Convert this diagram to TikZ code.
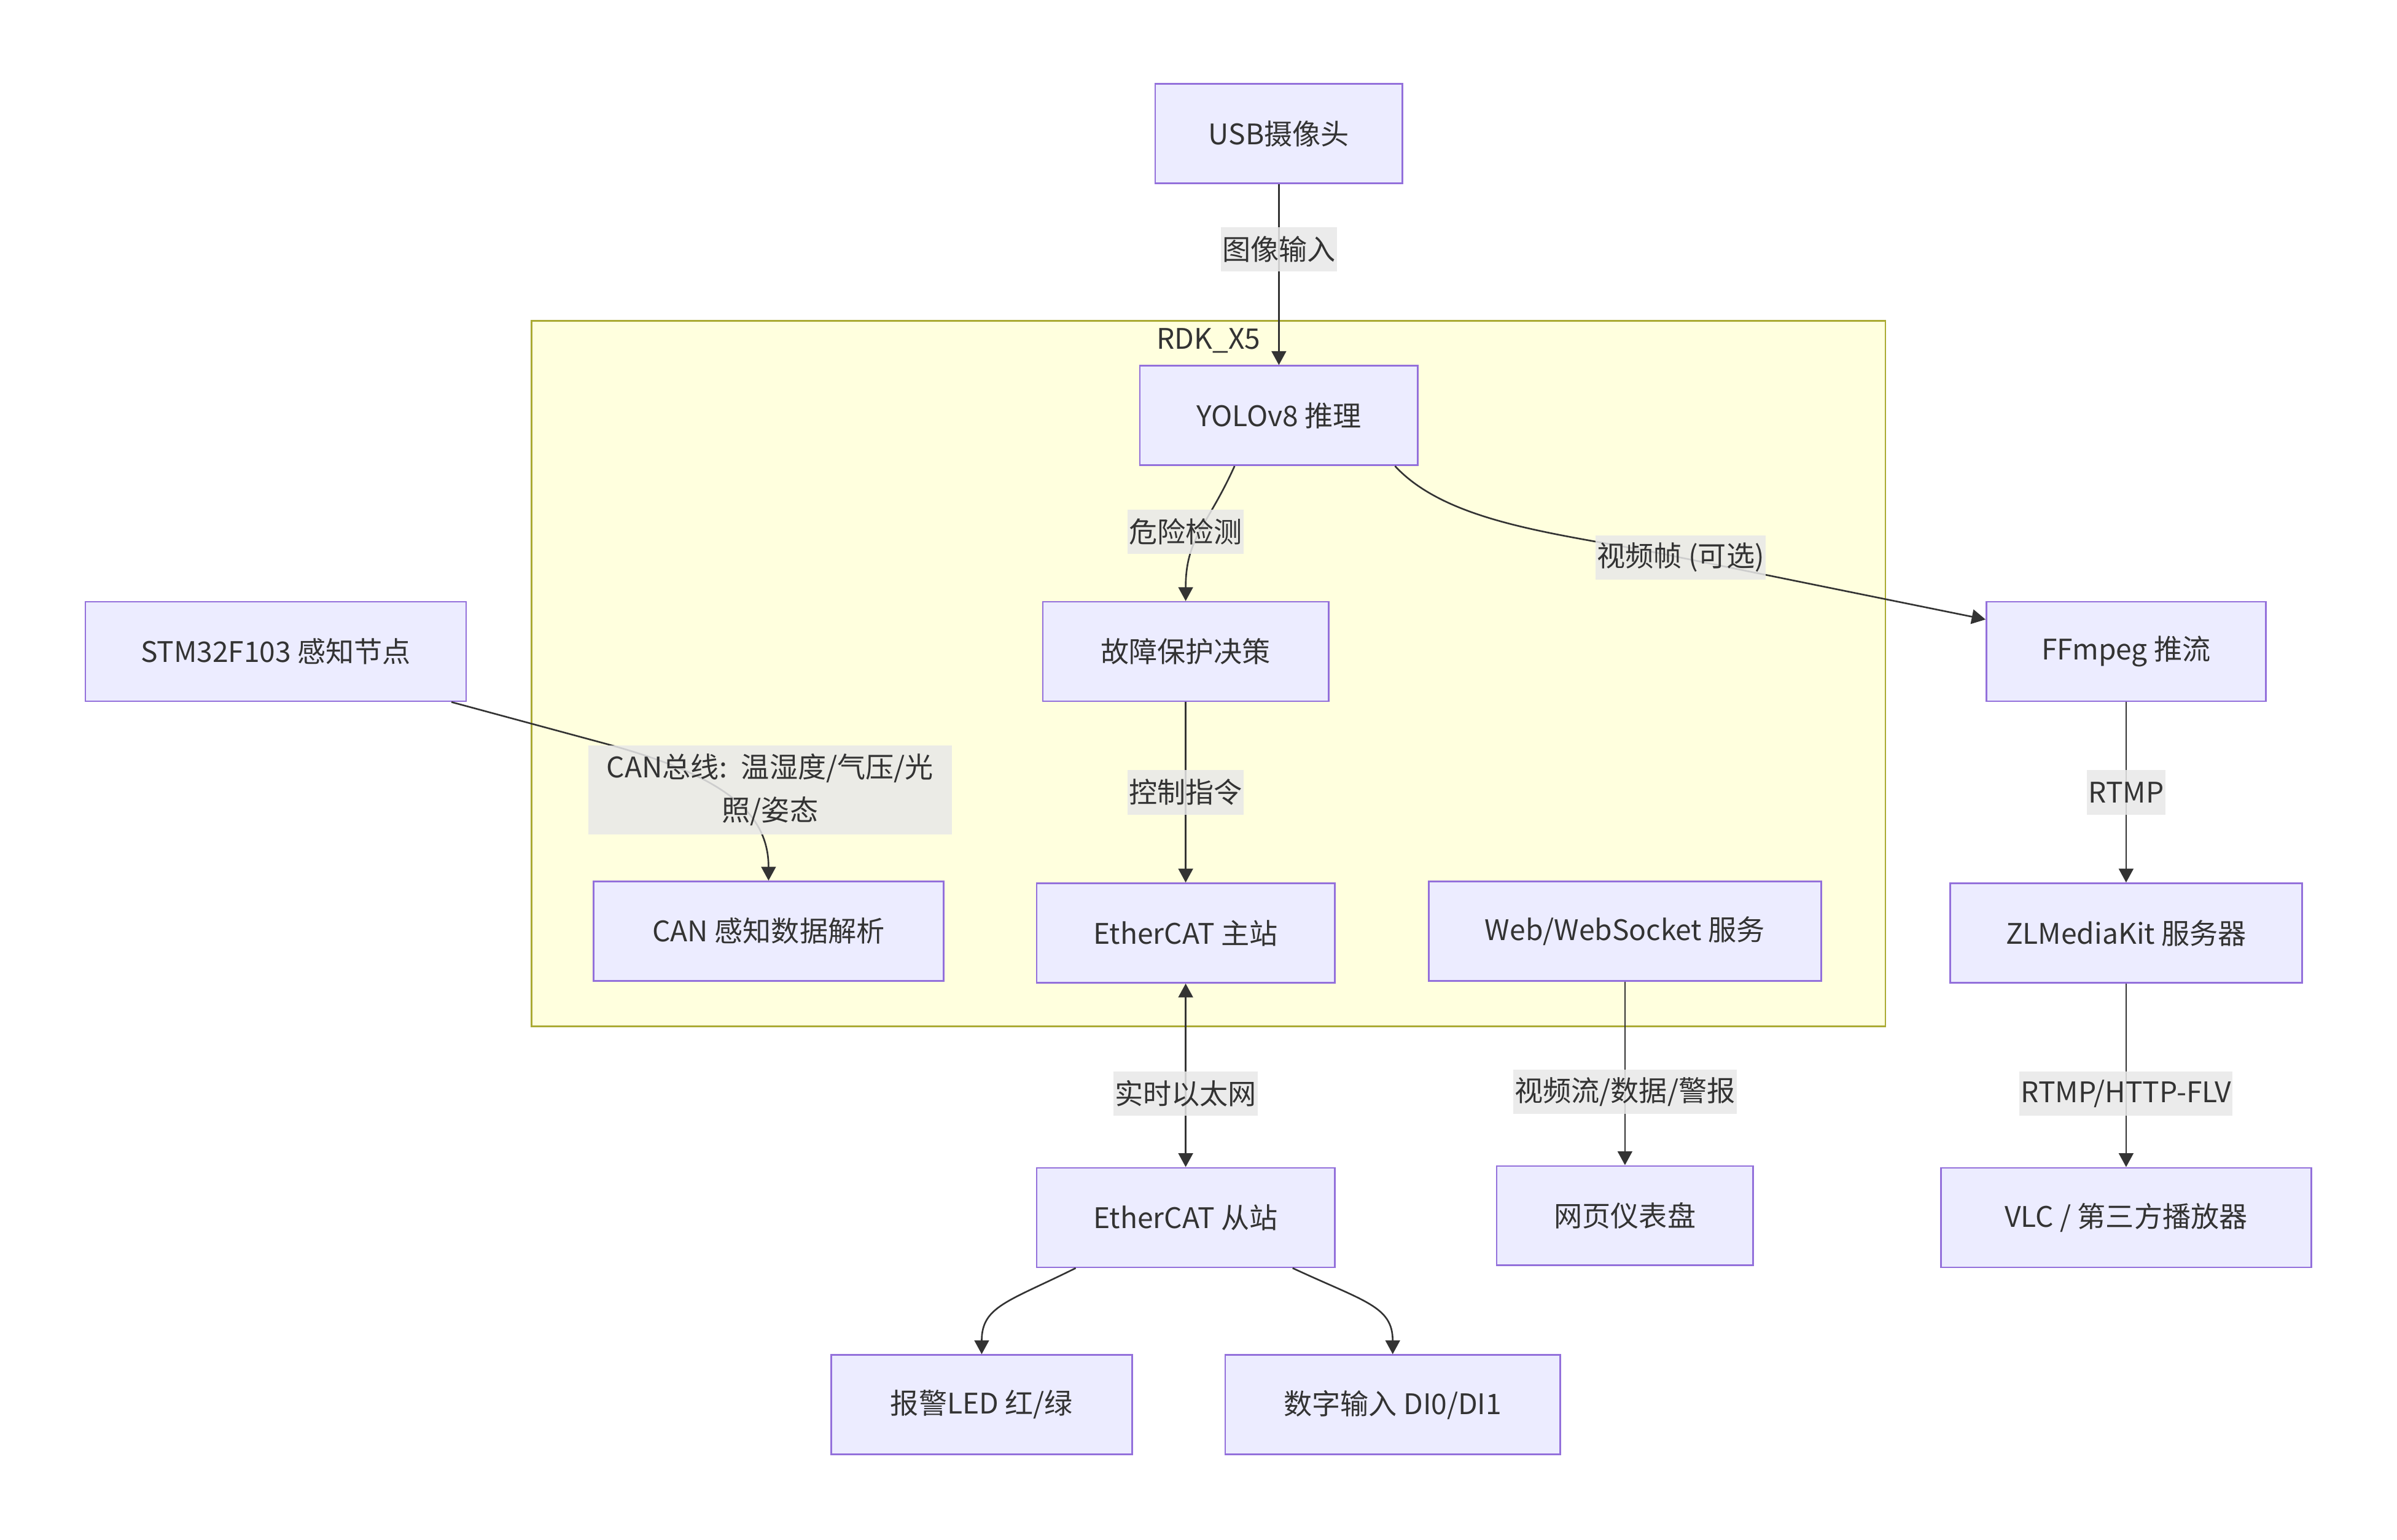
\documentclass[tikz,border=0pt]{standalone}
\usepackage{fontspec}
\setmainfont{Noto Sans CJK SC}
\usetikzlibrary{positioning, calc, arrows.meta}
\definecolor{nodefill}{HTML}{ECECFF}
\definecolor{nodeline}{HTML}{9370DB}
\definecolor{clusterfill}{HTML}{FFFFDE}
\definecolor{clusterline}{HTML}{AAAA33}
\definecolor{lblfill}{HTML}{E8E8E8}
\definecolor{edge}{HTML}{333333}
\definecolor{txt}{HTML}{333333}

\begin{document}
\begin{tikzpicture}[x=0.0199cm, y=-0.0199cm,
    block/.style={draw=nodeline, fill=nodefill, line width=0.6pt,
      minimum height=1.295cm, inner sep=0pt, text=txt},
    edgelabel/.style={fill=lblfill, fill opacity=0.85, text opacity=1,
      inner xsep=0.5pt, inner ysep=0pt, minimum height=0.58cm, text=txt},
    link/.style={draw=edge, line width=0.6pt},
    >={Triangle[length=0.18cm,width=0.19cm]},
    font=\fontsize{10.5pt}{15.9pt}\selectfont]

  \useasboundingbox (0,0) rectangle (1568.8,1008);
  \node[draw=clusterline, fill=clusterfill, line width=0.6pt, minimum width=17.63cm,
    minimum height=9.19cm, inner sep=0pt] (rdk) at (791,441) {};
  \node[text=txt] (rdktitle) at (791,223) {RDK\_X5};

  \node[block, minimum width=3.22cm] (usb) at (837,87.5) {USB摄像头};
  \node[block, minimum width=3.62cm] (yolo) at (837,272) {YOLOv8 推理};
  \node[block, minimum width=3.72cm] (fault) at (776,426.5) {故障保护决策};
  \node[block, minimum width=3.64cm] (ffmpeg) at (1391.5,426.5) {FFmpeg 推流};
  \node[block, minimum width=4.96cm] (stm) at (180.5,426.5) {STM32F103 感知节点};
  \node[block, minimum width=4.56cm] (canparse) at (503,609.5) {CAN 感知数据解析};
  \node[block, minimum width=3.88cm, below=2.35cm of fault] (ecmaster) {EtherCAT 主站};
  \node[block, minimum width=5.11cm] (web) at (1063.5,609.5) {Web/WebSocket 服务};
  \node[block, minimum width=4.58cm, below=2.35cm of ffmpeg] (zlm) {ZLMediaKit 服务器};
  \node[block, minimum width=3.88cm, below=2.39cm of ecmaster] (ecslave) {EtherCAT 从站};
  \node[block, minimum width=3.34cm, below=2.39cm of web] (dash) {网页仪表盘};
  \node[block, minimum width=4.82cm, below=2.39cm of zlm] (vlc) {VLC / 第三方播放器};
  \node[block, minimum width=3.92cm] (led) at (642.5,919.5) {报警LED 红/绿};
  \node[block, minimum width=4.36cm] (di) at (911.5,919.5) {数字输入 DI0/DI1};

  \draw[link,->] (usb) -- node[edgelabel, pos=0.36] (limg) {图像输入} (yolo);
  \draw[link,->] ($(yolo.south)+(-29,0)$) .. controls (790,345) and (776,352) .. (fault.north);
  \node[edgelabel] (ldanger) at (776,348) {危险检测};
  \draw[link,->] ($(yolo.south)+(76,0)$) .. controls (950,345) and (1030,350) .. (1100,365)
    -- ($(ffmpeg.west)+(0,-21)$);
  \node[edgelabel] (lframe) at (1100,365) {视频帧 (可选)};
  \draw[link,->] ($(stm.south)+(115,0)$) -- (397,487) .. controls (470,507) and (503,530) .. (canparse.north);
  \node[edgelabel, align=center, text width=4.7cm, minimum height=1.16cm] (lcan) at (504,517)
    {CAN总线: 温湿度/气压/光\\照/姿态};
  \draw[link,->] (fault) -- node[edgelabel] (lctl) {控制指令} (ecmaster);
  \draw[link,<->] (ecmaster) -- node[edgelabel, pos=0.6] (leth) {实时以太网} (ecslave);
  \draw[link,->] (web) -- node[edgelabel, pos=0.6] (lweb) {视频流/数据/警报} (dash);
  \draw[link,->] (ffmpeg) -- node[edgelabel] (lrtmp) {RTMP} (zlm);
  \draw[link,->] (zlm) -- node[edgelabel, pos=0.6] (lflv) {RTMP/HTTP-FLV} (vlc);
  \draw[link,->] ($(ecslave.south)+(-72,0)$) .. controls (660,852) and (642.5,855) .. (led.north);
  \draw[link,->] ($(ecslave.south)+(70,0)$) .. controls (893,852) and (911.5,855) .. (di.north);
\end{tikzpicture}
\end{document}
